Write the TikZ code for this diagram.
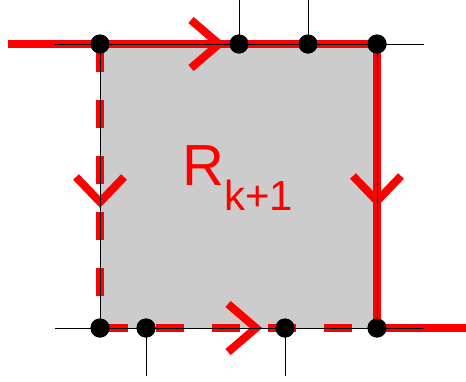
\documentclass[tikz,border=0pt]{standalone}
\usepackage{fontspec}
\setmainfont{Liberation Sans}
\usetikzlibrary{positioning, calc}
\definecolor{PathRed}{RGB}{255, 0, 0}
\definecolor{RegionGray}{RGB}{204, 204, 204}

\begin{document}
\begin{tikzpicture}[
    x=1pt, y=-1pt,
    dot/.style={circle, fill=black, inner sep=0pt, minimum size=19pt},
    wire/.style={draw=black, line width=0.9pt},
    solidpath/.style={draw=PathRed, line width=8.5pt},
    dashpath/.style={draw=PathRed, line width=8.5pt, dash pattern=on 28pt off 28pt},
    chevron/.style={draw=PathRed, line width=8pt},
    regionlabel/.style={text=PathRed, inner sep=0pt, anchor=base west, font=\fontsize{58}{58}\selectfont}
  ]
    \useasboundingbox (0,0) rectangle (466,381);

    % Region
    \fill[RegionGray] (100,44) rectangle (377,328);

    % Corners and crossings
    \node[dot] (tl) at (100,44) {};
    \node[dot] (t1) at (239,44) {};
    \node[dot] (t2) at (308,44) {};
    \node[dot] (tr) at (377,44) {};
    \node[dot] (bl) at (100,328) {};
    \node[dot] (b1) at (146,328) {};
    \node[dot] (b2) at (285,328) {};
    \node[dot] (br) at (377,328) {};

    % Free ends
    \coordinate (inL) at (8,44);
    \coordinate (outR) at (466,328);
    \coordinate (wTL) at (55,44);
    \coordinate (wTR) at (424,44);
    \coordinate (wBL) at (55,328);
    \coordinate (wBR) at (424,328);
    \coordinate (up1) at (239,0);
    \coordinate (up2) at (308,0);
    \coordinate (dn1) at (146,376);
    \coordinate (dn2) at (285,376);

    % Red paths
    \draw[solidpath] (inL) -- (tl.center) -- (tr.center) -- (br.center) -- (outR);
    \draw[dashpath] (tl.center) -- (bl.center);
    \draw[dashpath] (bl.center) -- (br.center);

    % Chevrons
    \coordinate (cTop) at (219,44);
    \coordinate (cRight) at (377,201);
    \coordinate (cLeft) at (100,202);
    \coordinate (cBottom) at (256,328);
    \draw[chevron] (cTop) +(-28,-24) -- (cTop) -- +(-28,24);
    \draw[chevron] (cRight) +(-24,-25) -- (cRight) -- +(24,-25);
    \draw[chevron] (cLeft) +(-24,-25) -- (cLeft) -- +(24,-25);
    \draw[chevron] (cBottom) +(-28,-24) -- (cBottom) -- +(-28,24);

    % Grid lines
    \draw[wire] (tl.center) rectangle (br.center);
    \draw[wire] (wTL) -- (tl.center);
    \draw[wire] (tr.center) -- (wTR);
    \draw[wire] (wBL) -- (bl.center);
    \draw[wire] (br.center) -- (wBR);
    \draw[wire] (up1) -- (t1.center);
    \draw[wire] (up2) -- (t2.center);
    \draw[wire] (b1.center) -- (dn1);
    \draw[wire] (b2.center) -- (dn2);

    % Dots on top
    \foreach \d in {tl, t1, t2, tr, bl, b1, b2, br}
      \fill (\d) circle (9.5pt);

    % Label
    \node[regionlabel] (rlabel) at (182,185) {R\raisebox{-25pt}{\fontsize{42}{42}\selectfont k+1}};
\end{tikzpicture}
\end{document}
